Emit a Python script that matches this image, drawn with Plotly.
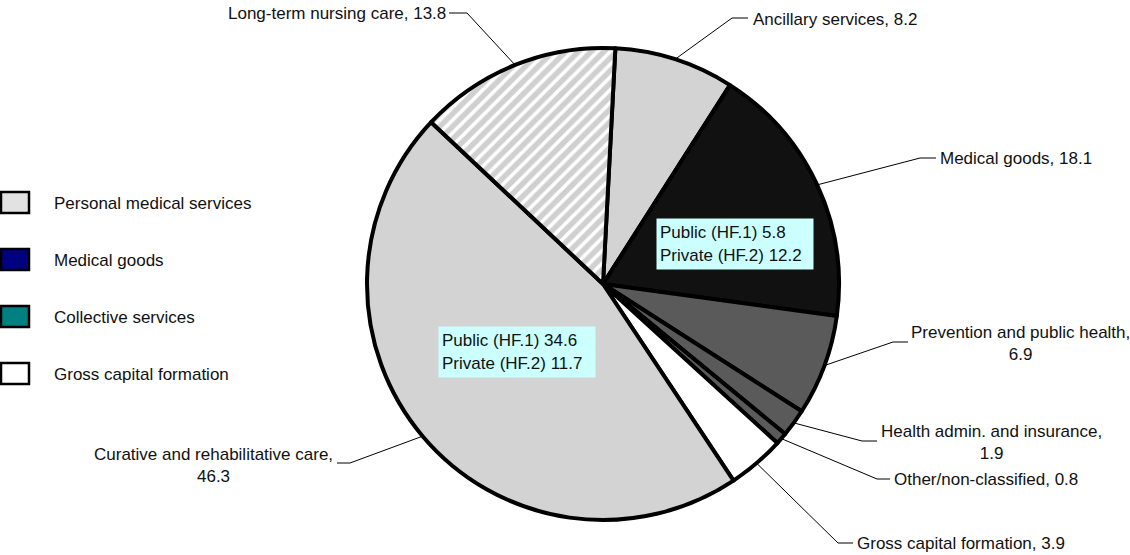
import math
import plotly.graph_objects as go

# ---------------- data ----------------
categories = ["Ancillary services", "Medical goods", "Prevention and public health",
              "Health admin. and insurance", "Other/non-classified",
              "Gross capital formation", "Curative and rehabilitative care",
              "Long-term nursing care"]
values = [8.2, 18.1, 6.9, 1.9, 0.8, 3.9, 46.3, 13.8]
label_texts = ["Ancillary services, 8.2", "Medical goods, 18.1",
               "Prevention and public health,<br>6.9",
               "Health admin. and insurance,<br>1.9",
               "Other/non-classified, 0.8", "Gross capital formation, 3.9",
               "Curative and rehabilitative care,<br>46.3",
               "Long-term nursing care, 13.8"]
split_medical = [5.8, 12.2]
split_curative = [34.6, 11.7]
legend_labels = ["Personal medical services", "Medical goods",
                 "Collective services", "Gross capital formation"]

# ---------------- styles / layout ----------------
slice_colors = ["#d3d3d3", "#111111", "#5a5a5a", "#5a5a5a", "#5a5a5a",
                "#ffffff", "#d3d3d3", "#d0d0d0"]
slice_patterns = ["", "", "", "", "", "", "", "/"]
legend_colors = ["#e2e2e2", "#000080", "#008080", "#ffffff"]

W, H = 1130, 555
CX, CY, R = 603, 284, 236
ROT = 3
FONT = "Liberation Sans, Arial, sans-serif"
FS = 17

# label layout: (elbow x, elbow y, end x, end y, text x, text y, xanchor)
label_layout = [
    (732, 18, 748, 18, 751, 19, "left"),
    (920, 158, 936, 158, 938, 158, "left"),
    (893, 342, 908, 342, 1020, 343, "center"),
    (862, 441, 877, 441, 991, 442, "center"),
    (877, 479, 890, 479, 892, 479, "left"),
    (838, 543, 853, 543, 855, 543, "left"),
    (350, 463, 337, 463, 213, 465, "center"),
    (467, 13, 449, 13, 448, 13, "right"),
]

fig = go.Figure()

fig.add_trace(go.Pie(
    values=values, labels=categories, sort=False, direction="clockwise",
    rotation=ROT, textinfo="none", showlegend=False, hoverinfo="label+value",
    marker=dict(colors=slice_colors,
                line=dict(color="black", width=4),
                pattern=dict(shape=slice_patterns, fgcolor="white",
                             fgopacity=1, fillmode="overlay", size=9,
                             solidity=0.4)),
    domain=dict(x=[(CX - R) / W, (CX + R) / W],
                y=[(H - CY - R) / H, (H - CY + R) / H]),
))

# invisible trace to establish cartesian pixel axes
fig.add_trace(go.Scatter(x=[0, W], y=[0, H], mode="markers",
                         marker=dict(opacity=0), showlegend=False,
                         hoverinfo="skip"))

total = sum(values)
shapes = []
annotations = []
cum = 0.0
for v, txt, lay in zip(values, label_texts, label_layout):
    mid = math.radians(ROT + (cum + v / 2) / total * 360)
    cum += v
    ax = CX + R * math.sin(mid)
    ay = CY - R * math.cos(mid)
    ex, ey, hx, hy, tx, ty, anch = lay
    shapes.append(dict(type="path", xref="x", yref="y", layer="above",
                       path=f"M {ax:.1f},{ay:.1f} L {ex},{ey} L {hx},{hy}",
                       line=dict(color="black", width=1)))
    annotations.append(dict(x=tx, y=ty, xref="x", yref="y", text=txt,
                            showarrow=False, xanchor=anch, yanchor="middle",
                            align="center",
                            font=dict(family=FONT, size=FS, color="#111111")))

# split boxes
annotations.append(dict(
    x=735, y=243.5, xref="x", yref="y", showarrow=False,
    text=f"Public (HF.1) {split_medical[0]}<br>Private (HF.2) {split_medical[1]}",
    align="left", bgcolor="#ccffff", borderpad=3, width=150, height=44,
    font=dict(family=FONT, size=FS, color="#111111")))
annotations.append(dict(
    x=516.5, y=351.5, xref="x", yref="y", showarrow=False,
    text=f"Public (HF.1) {split_curative[0]}<br>Private (HF.2) {split_curative[1]}",
    align="left", bgcolor="#ccffff", borderpad=3, width=150, height=44,
    font=dict(family=FONT, size=FS, color="#111111")))

# legend
for i, (lab, col) in enumerate(zip(legend_labels, legend_colors)):
    y0 = 192 + i * 57
    shapes.append(dict(type="rect", xref="x", yref="y", x0=1, x1=29,
                       y0=y0, y1=y0 + 21, fillcolor=col,
                       line=dict(color="black", width=2.5)))
    annotations.append(dict(x=52, y=y0 + 11, xref="x", yref="y", text=lab,
                            showarrow=False, xanchor="left", yanchor="middle",
                            font=dict(family=FONT, size=FS, color="#111111")))

fig.update_layout(
    width=W, height=H, margin=dict(l=0, r=0, t=0, b=0),
    paper_bgcolor="white", plot_bgcolor="white",
    xaxis=dict(range=[0, W], visible=False, domain=[0, 1], fixedrange=True),
    yaxis=dict(range=[H, 0], visible=False, domain=[0, 1], fixedrange=True),
    shapes=shapes, annotations=annotations, showlegend=False,
)

fig.write_html("out.html", config={"displayModeBar": False},
               post_script="document.body.style.margin='0';document.body.style.overflow='hidden';")
